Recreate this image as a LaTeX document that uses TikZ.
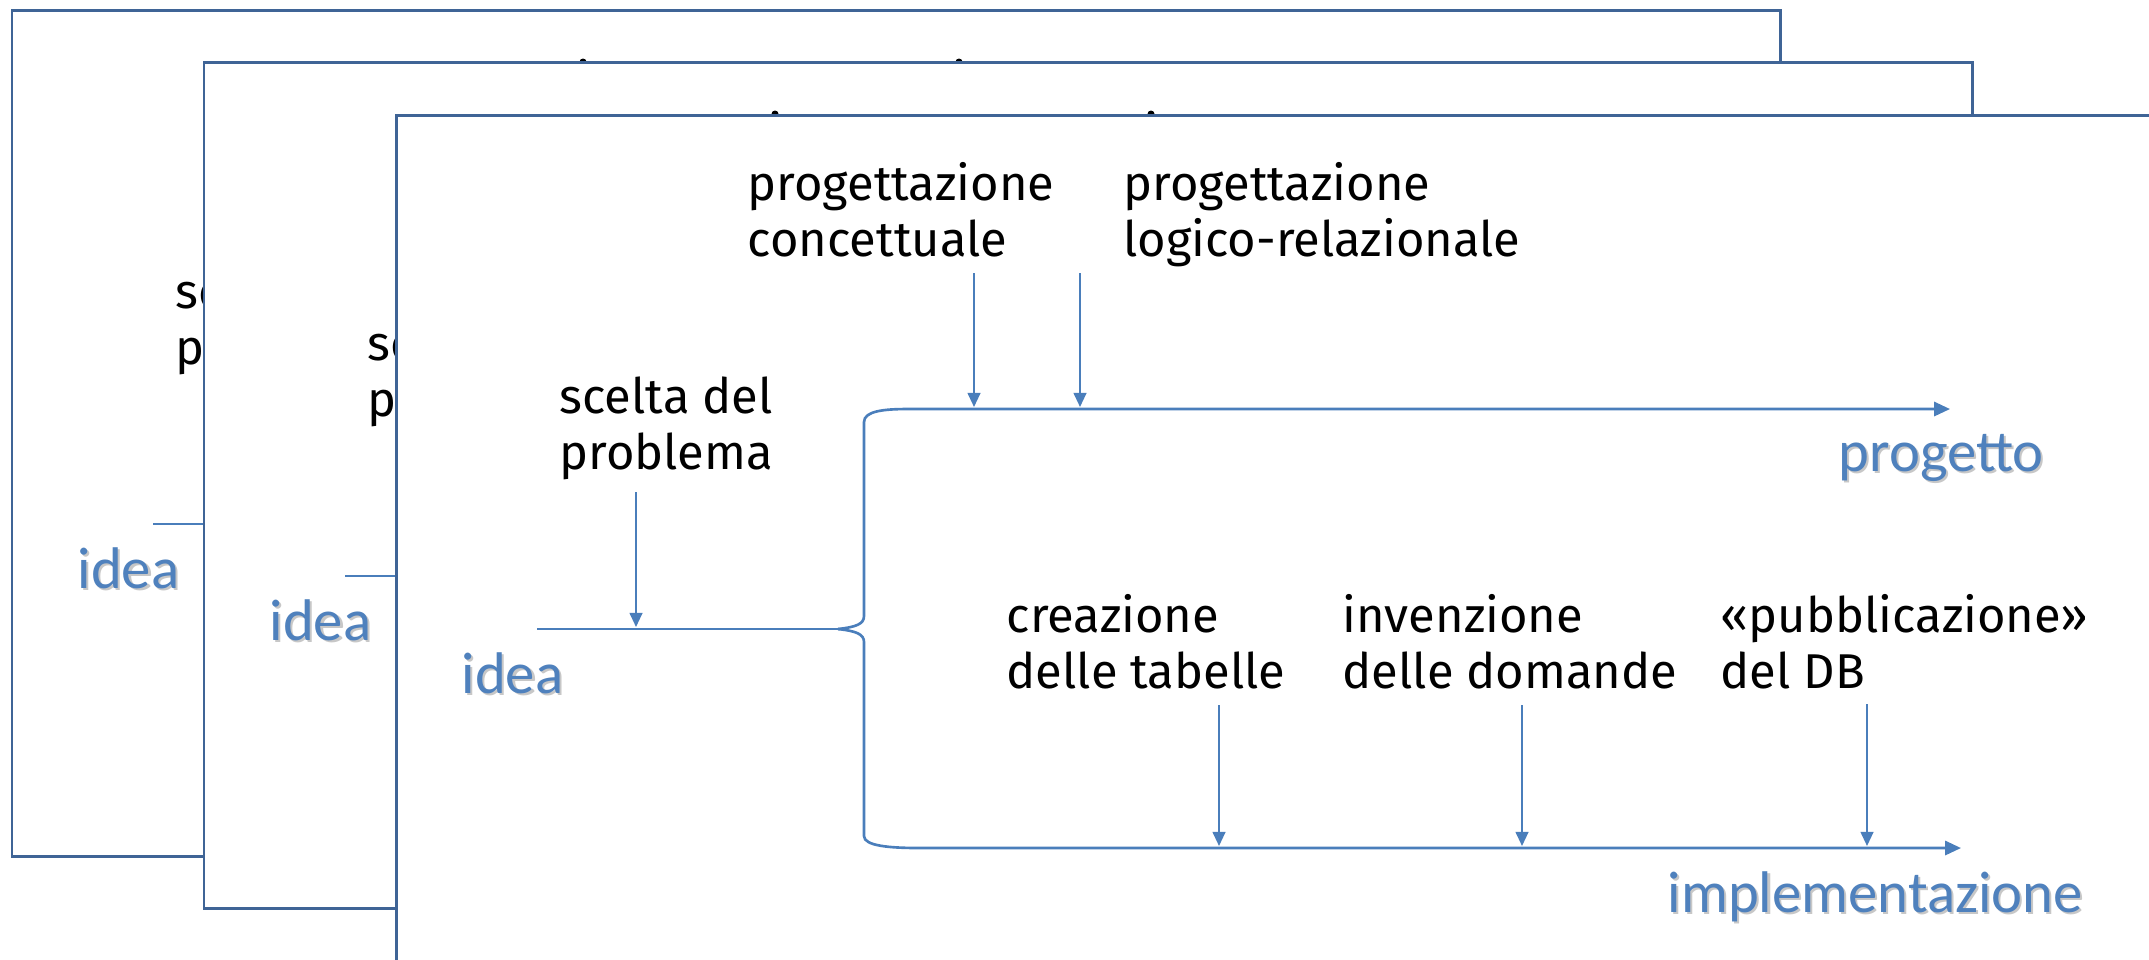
\documentclass[tikz,border=0pt]{standalone}
\usepackage{fontspec}
\setmainfont{Fira Sans}
\newfontfamily\calfont{Carlito}
\usetikzlibrary{arrows.meta}
\definecolor{boxblue}{HTML}{3F6496}
\definecolor{arrblue}{HTML}{4A7EBB}
\definecolor{txtblue}{HTML}{4F81BD}
\newcommand\twol[2]{\vtop{\baselineskip=16.2pt\hbox{#1}\hbox{#2}}}
\newcommand\shtxt[1]{\rlap{\kern0.6pt\raisebox{-0.6pt}{\textcolor{black!22}{#1}}}#1}
\tikzset{
  frame/.style={draw=boxblue, line width=0.85pt, fill=white},
  lbl/.style={anchor=base west, inner sep=0pt, font=\fontsize{13.9pt}{16.2pt}\selectfont, text=black},
  blbl/.style={anchor=base west, inner sep=0pt, font=\calfont\fontsize{16.7pt}{20pt}\selectfont, text=txtblue},
  vflow/.style={draw=arrblue, line width=0.6pt, -{Triangle[length=4pt,width=3.6pt]}},
  hflow/.style={draw=arrblue, line width=0.75pt, -{Triangle[length=4.5pt,width=4pt]}},
  plainline/.style={draw=arrblue, line width=0.75pt},
}
% a sheet lying behind the next one: only its visible parts are drawn
\newcommand\backsheet[3]{%
\begin{scope}[shift={(#2,#3)}]
  \path[frame] (396,115) rectangle (2164,961);
  \fill[black] (967,167) circle (1pt);
  \fill[black] (1343,167) circle (1pt);
  \node[lbl] (#1scel) at (559,413) {\twol{sc}{p}};
  \node[blbl] (#1idea) at (461,693) {\shtxt{idea}};
  \coordinate (#1ideaS) at (537,629);
  \coordinate (#1tip) at (838,629);
  \draw[plainline] (#1ideaS) -- (#1tip);
\end{scope}}
\begin{document}
\begin{tikzpicture}[x=0.01cm, y=-0.01cm]
  \clip (0,0) rectangle (2149,959);
  \backsheet{A}{-384}{-105}
  \backsheet{B}{-192}{-53}
  % front sheet
  \path[frame] (396,115) rectangle (2164,961);
  \node[lbl] (conc) at (747,200) {\twol{progettazione}{concettuale}};
  \node[lbl] (logi) at (1123,200) {\twol{progettazione}{logico-relazionale}};
  \node[lbl] (scel) at (559,413) {\twol{scelta del}{problema}};
  \node[lbl] (crea) at (1006,632) {\twol{creazione}{delle tabelle}};
  \node[lbl] (inve) at (1342,632) {\twol{invenzione}{delle domande}};
  \node[lbl] (pubb) at (1720,632) {\twol{«pubblicazione»}{del DB}};
  \node[blbl] (idea) at (461,693) {\shtxt{idea}};
  \node[blbl] (prog) at (1838,471) {\shtxt{progetto}};
  \node[blbl] (impl) at (1667,912) {\shtxt{implementazione}};
  \coordinate (ideaS) at (537,629);
  \coordinate (tip) at (838,629);
  \coordinate (progE) at (1950,409);
  \coordinate (implE) at (1961,848);
  \coordinate (sS) at (636,492);  \coordinate (sE) at (636,627);
  \coordinate (cS) at (974,273);  \coordinate (cE) at (974,407);
  \coordinate (lS) at (1080,273); \coordinate (lE) at (1080,407);
  \coordinate (aS) at (1219,705); \coordinate (aE) at (1219,846);
  \coordinate (bS) at (1522,705); \coordinate (bE) at (1522,846);
  \coordinate (dS) at (1867,704); \coordinate (dE) at (1867,846);
  \draw[plainline] (ideaS) -- (tip);
  \draw[hflow] (tip) .. controls (856,627) and (864,624) .. (864,616)
      -- (864,422) .. controls (864,411) and (884,409) .. (908,409) -- (progE);
  \draw[hflow] (tip) .. controls (856,631) and (864,634) .. (864,642)
      -- (864,836) .. controls (864,846) and (890,848) .. (920,848) -- (implE);
  \draw[vflow] (sS) -- (sE);
  \draw[vflow] (cS) -- (cE);
  \draw[vflow] (lS) -- (lE);
  \draw[vflow] (aS) -- (aE);
  \draw[vflow] (bS) -- (bE);
  \draw[vflow] (dS) -- (dE);
\end{tikzpicture}
\end{document}
